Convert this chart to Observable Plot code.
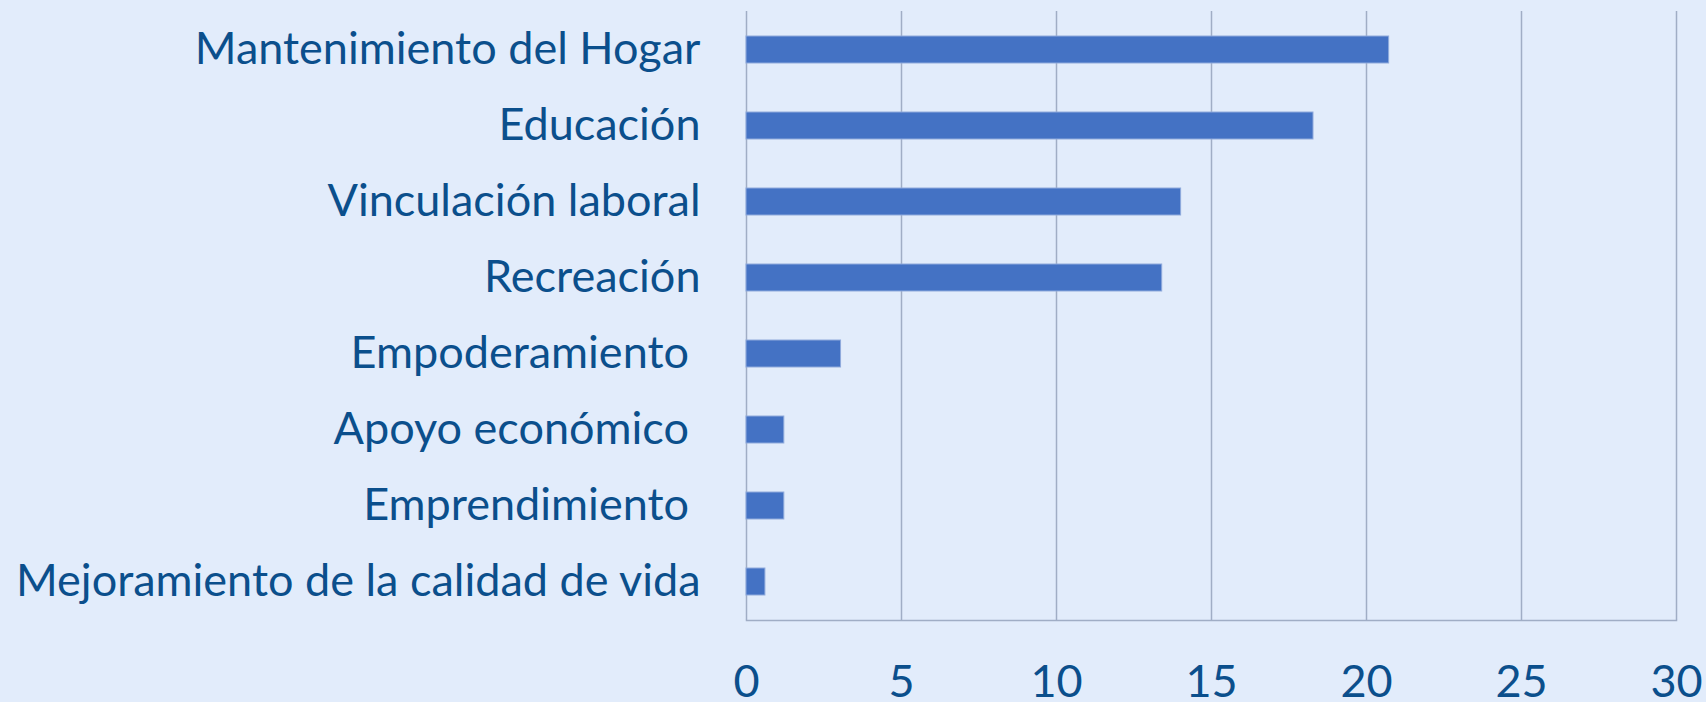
<!DOCTYPE html>
<html><head><meta charset="utf-8">
<script src="https://cdn.jsdelivr.net/npm/d3@7"></script>
<script src="https://cdn.jsdelivr.net/npm/@observablehq/plot@0.6"></script>
<style>
html,body{margin:0;padding:0;background:#e2ecfb;overflow:hidden;}
svg text{white-space:pre;}
</style></head><body><div id="chart"></div>
<script>
const categories = ["Mantenimiento del Hogar","Educación","Vinculación laboral","Recreación","Empoderamiento ","Apoyo económico ","Emprendimiento ","Mejoramiento de la calidad de vida"];
const values = [20.73,18.29,14.02,13.41,3.05,1.22,1.22,0.61];
const xTicks = [0,5,10,15,20,25,30];
const data = categories.map((c,i)=>({category:c, value:values[i]}));
const textColor = "#0b4f8c";
const gridColor = "#a0adc5";
const chart = Plot.plot({
  width:1706, height:702, marginLeft:746, marginRight:30, marginTop:11, marginBottom:82,
  style:{background:"#e2ecfb", fontFamily:"Lato, 'Open Sans', sans-serif", fontSize:"45px", color:textColor},
  x:{domain:[0,30], ticks:xTicks, label:null},
  y:{domain:categories, paddingInner:0.65, paddingOuter:0.325, label:null},
  marks:[
    Plot.ruleX(xTicks, {stroke:gridColor, strokeWidth:1.5}),
    Plot.frame({anchor:"bottom", stroke:gridColor, strokeWidth:1.5}),
    Plot.barX(data, {x:"value", y:"category", fill:"#4472c4", stroke:"#8faadc", strokeWidth:1}),
    Plot.axisX({ticks:xTicks, tickSize:0, tickPadding:45, fontSize:45, fill:textColor, label:null}),
    Plot.axisY({tickSize:0, tickPadding:46, fontSize:45, fill:textColor, label:null, tickFormat:d=>d})
  ]
});
document.getElementById("chart").append(chart);
</script></body></html>
